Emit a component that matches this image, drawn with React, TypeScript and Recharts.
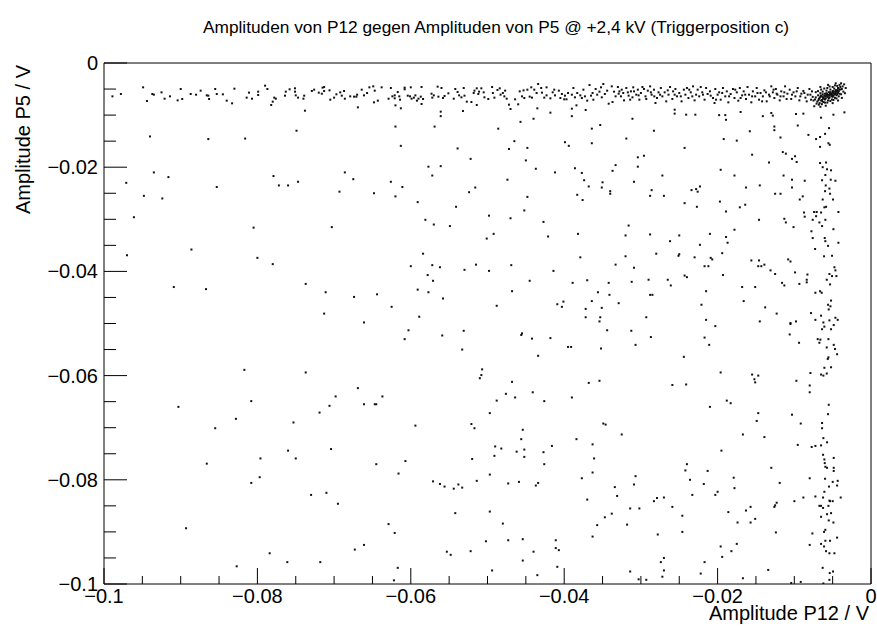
import React from "react";
import { ScatterChart, Scatter, XAxis, YAxis, ReferenceArea } from "recharts";

// All point values are in millivolts: [P12 amplitude, P5 amplitude]
const bandLeftMv: number[][] = [
  [-98.9,-6.4],[-97.8,-5.95],[-94.9,-4.67],[-94.4,-7.29],[-93.7,-5.95],[-93.5,-6.08],[-92.5,-5.63],[-92.1,-6.85],[-91.4,-6.4],[-90.4,-7.17],
  [-90.0,-4.99],[-89.8,-6.91],[-88.7,-5.95],[-88.0,-6.08],[-87.4,-5.31],[-86.6,-6.21],[-86.4,-6.27],[-86.3,-6.91],[-85.5,-4.99],[-85.3,-5.95],
  [-84.5,-6.01],[-84.0,-7.23],[-83.3,-7.74],[-83.0,-4.93],[-81.4,-6.65],[-81.1,-5.69],[-80.7,-6.85],[-79.9,-5.5],[-79.9,-6.14],[-79.0,-4.35],
  [-78.7,-4.99],[-78.2,-8.06],[-78.0,-7.42],[-77.8,-6.65],[-77.6,-6.85],[-76.4,-6.27],[-76.3,-5.5],[-75.8,-5.05],[-75.1,-4.86],[-75.1,-5.5],
  [-75.0,-6.21],[-74.7,-6.65],[-74.0,-6.85],[-73.9,-6.27],[-73.8,-9.15],[-72.9,-5.37],[-72.6,-5.12],[-72.0,-5.69],[-71.6,-5.89],[-71.5,-4.73],
  [-71.3,-4.61],[-71.3,-5.37],[-70.6,-5.25],[-70.5,-7.04],[-70.0,-6.65],[-69.7,-6.01],[-69.2,-5.63],[-69.0,-6.27],[-68.7,-5.37],[-68.6,-6.85],
  [-67.9,-6.4],[-67.4,-6.46],[-67.1,-6.46],[-67.0,-6.08],[-66.9,-8.51],
];

const bandMidMv: number[][] = [
  [-66.4,-5.12],[-66.1,-6.21],[-65.7,-5.76],[-65.4,-4.67],[-64.9,-4.48],[-64.7,-5.31],[-64.8,-7.55],[-64.3,-7.23],[-63.8,-4.67],[-62.6,-4.8],
  [-62.9,-6.85],[-62.4,-6.4],[-62.1,-6.21],[-62.1,-6.78],[-62.0,-8.13],[-61.7,-5.57],[-61.5,-6.4],[-61.4,-7.04],[-61.3,-8.7],[-60.8,-4.73],
  [-60.8,-5.05],[-60.4,-6.27],[-60.1,-6.4],[-60.0,-4.67],[-59.9,-6.85],[-59.6,-6.65],[-59.4,-6.21],[-59.2,-7.23],[-59.0,-6.85],[-58.7,-6.46],
  [-58.6,-4.61],[-58.6,-7.87],[-58.4,-6.91],[-57.3,-5.89],[-57.2,-6.65],[-57.0,-6.21],[-56.5,-4.54],[-56.4,-6.46],[-56.0,-4.8],[-55.8,-6.72],
  [-55.6,-6.33],[-55.1,-5.82],[-54.4,-6.85],[-54.2,-4.99],[-53.9,-5.57],[-53.7,-6.21],[-53.4,-6.59],[-53.1,-4.8],[-53.0,-6.27],[-52.7,-7.42],
  [-52.1,-7.49],[-51.8,-5.76],[-51.7,-5.31],[-51.4,-4.86],[-51.2,-5.95],[-51.1,-5.5],[-50.8,-4.86],[-50.5,-5.63],[-51.4,-8.06],[-50.4,-6.59],
  [-49.9,-6.91],[-49.4,-4.61],[-49.3,-5.76],[-49.1,-6.65],[-48.7,-5.18],[-48.4,-4.86],[-48.3,-6.08],[-48.0,-5.76],[-47.8,-6.4],[-47.7,-5.31],
  [-47.5,-6.85],[-47.2,-8.0],[-47.0,-8.83],[-46.4,-6.97],[-46.0,-7.93],[-45.8,-5.44],[-45.5,-6.4],[-45.3,-5.25],[-45.2,-6.72],[-44.8,-5.12],
  [-44.5,-6.46],[-44.3,-4.67],[-44.2,-6.65],[-43.9,-5.12],[-43.6,-5.76],[-43.4,-4.03],[-43.0,-4.8],[-42.9,-5.69],[-42.6,-6.65],[-42.3,-4.67],
  [-42.3,-6.21],[-41.8,-6.78],[-41.5,-5.63],[-41.3,-5.12],[-41.2,-6.21],[-40.7,-5.31],[-40.5,-6.72],[-40.3,-5.95],[-40.0,-6.97],[-39.9,-6.27],
  [-39.7,-6.97],[-39.5,-5.76],[-39.0,-6.08],[-38.8,-4.8],[-38.6,-6.59],[-38.4,-8.13],[-38.3,-5.76],[-37.9,-6.21],[-37.7,-6.72],[-37.5,-5.12],
  [-37.3,-6.4],[-37.0,-7.23],[-36.7,-4.22],[-36.5,-6.27],[-36.3,-5.76],[-36.2,-7.04],[-35.9,-4.99],[-35.7,-6.08],[-35.4,-5.5],[-35.2,-4.67],
  [-35.1,-6.59],[-34.9,-4.03],[-34.7,-5.95],[-34.4,-5.31],[-34.2,-7.81],[-33.8,-4.48],[-33.7,-7.49],[-33.5,-5.5],[-33.3,-6.4],
];

const bandRightMv: number[][] = [
  [-33.0,-4.61],[-32.8,-5.44],[-32.6,-6.4],[-32.3,-5.76],[-32.2,-7.17],[-31.9,-4.8],[-31.6,-6.27],[-31.3,-5.44],[-31.1,-6.59],[-31.0,-4.67],
  [-30.6,-6.08],[-30.4,-5.12],[-30.2,-7.04],[-30.0,-5.76],[-29.8,-4.61],[-29.4,-6.4],[-29.1,-5.31],[-28.8,-4.48],[-28.6,-6.08],[-28.3,-5.12],
  [-28.1,-7.68],[-27.9,-6.72],[-27.7,-5.63],[-27.4,-4.8],[-27.2,-6.4],[-26.9,-5.63],[-26.7,-7.36],[-26.4,-6.08],[-26.2,-4.61],[-25.9,-6.91],
  [-25.8,-5.44],[-25.5,-4.99],[-25.3,-6.4],[-25.0,-5.76],[-24.7,-7.36],[-24.4,-5.12],[-24.2,-6.08],[-24.0,-4.8],[-23.8,-6.72],[-23.5,-5.63],
  [-23.2,-4.48],[-23.0,-7.17],[-22.8,-6.08],[-22.6,-5.12],[-22.4,-6.4],[-22.0,-5.63],[-21.7,-7.04],[-21.5,-4.8],[-21.3,-5.95],[-21.0,-5.44],
  [-20.6,-6.72],[-20.4,-7.68],[-20.3,-4.99],[-20.0,-6.08],[-19.8,-5.63],[-19.6,-7.04],[-19.3,-4.8],[-19.0,-6.4],[-18.8,-5.44],[-18.6,-7.55],
  [-18.3,-5.95],[-18.0,-4.99],[-17.8,-6.72],[-17.5,-5.63],[-17.3,-7.23],[-17.1,-4.8],[-16.8,-6.21],[-16.6,-5.44],[-16.3,-6.91],[-16.1,-4.61],
  [-15.9,-6.08],[-15.6,-7.55],[-15.4,-5.44],[-15.1,-6.4],[-14.9,-4.8],[-14.6,-7.04],[-14.4,-5.76],[-14.1,-6.4],[-13.9,-5.25],[-13.6,-7.36],
  [-13.3,-6.08],[-13.0,-4.48],[-12.8,-5.63],[-12.6,-6.72],[-12.4,-4.99],[-12.2,-6.08],[-11.9,-7.17],[-11.7,-5.44],[-11.4,-6.4],[-11.2,-4.48],
  [-10.9,-5.89],[-10.6,-5.12],[-10.4,-6.91],[-10.1,-5.63],[-9.86,-6.4],[-9.55,-4.8],[-9.34,-7.17],[-9.08,-5.89],[-8.82,-5.37],[-8.55,-6.65],
  [-8.25,-6.08],[-8.03,-4.99],[-7.82,-7.04],
  [-32.9,-5.89],[-32.5,-5.12],[-31.7,-5.63],[-31.4,-7.04],[-30.9,-5.44],[-30.3,-6.21],[-29.6,-4.99],[-29.3,-6.91],[-28.7,-5.63],[-28.25,-6.4],
  [-27.5,-6.08],[-26.5,-5.25],[-25.6,-6.08],[-24.8,-6.4],[-23.7,-5.12],[-23.3,-6.4],[-22.2,-4.61],[-21.9,-6.08],[-20.9,-6.27],[-20.2,-7.04],
  [-19.4,-5.76],[-18.5,-6.4],[-17.7,-5.12],[-17.0,-6.72],[-16.4,-6.08],[-15.5,-6.4],[-14.8,-5.76],[-14.2,-7.36],[-13.7,-5.63],[-13.2,-6.4],
  [-12.7,-5.12],[-12.3,-5.89],[-11.8,-6.4],[-11.3,-5.63],[-11.0,-6.91],[-10.3,-6.08],[-9.69,-5.44],[-9.21,-6.4],[-8.69,-5.76],[-8.38,-7.36],
  [-7.9,-6.08],[-7.69,-5.44],
];

const clusterMv: number[][] = [
  [-6.8,-6.9],[-6.5,-7.2],[-6.2,-6.6],[-6.0,-7.0],[-5.7,-6.4],[-5.5,-6.8],[-5.2,-6.1],[-5.0,-6.5],[-4.8,-5.9],[-4.5,-6.2],[-4.3,-5.6],[-4.1,-5.9],
  [-6.9,-6.2],[-6.6,-6.5],[-6.3,-6.0],[-6.1,-6.3],[-5.8,-5.8],[-5.6,-6.1],[-5.3,-5.6],[-5.1,-5.9],[-4.9,-5.4],[-4.6,-5.7],[-4.4,-5.2],[-4.2,-5.4],
  [-7.0,-7.4],[-6.7,-7.7],[-6.4,-7.1],[-6.2,-7.5],[-5.9,-6.8],[-5.6,-7.2],[-5.4,-6.6],[-5.1,-7.0],[-4.9,-6.3],[-4.7,-6.7],[-4.4,-6.0],[-4.0,-5.1],
  [-6.6,-5.8],[-6.3,-5.5],[-6.0,-5.9],[-5.8,-5.3],[-5.5,-5.6],[-5.3,-5.1],[-5.0,-5.4],[-4.8,-4.9],[-4.6,-5.2],[-4.3,-4.8],[-4.0,-4.6],[-3.8,-5.0],
  [-7.2,-6.6],[-7.3,-7.0],[-7.1,-7.8],[-6.8,-8.0],[-6.4,-7.9],[-6.0,-7.6],[-5.7,-7.6],[-5.3,-7.3],[-4.9,-7.1],[-4.5,-6.8],[-4.2,-6.4],[-3.9,-6.0],
  [-6.9,-5.4],[-6.5,-5.1],[-6.1,-4.9],[-5.7,-4.8],[-5.4,-4.5],[-5.0,-4.6],[-4.7,-4.3],[-4.4,-4.4],[-4.1,-4.2],[-3.7,-4.5],[-3.6,-5.5],[-3.5,-4.1],
  [-6.7,-6.7],[-6.4,-6.4],[-6.15,-6.85],[-5.85,-6.15],[-5.65,-6.55],[-5.35,-5.95],[-5.15,-6.35],[-4.95,-5.65],[-4.75,-6.05],[-4.55,-5.45],[-4.35,-5.75],[-4.15,-5.05],
  [-6.55,-6.25],[-6.25,-6.75],[-5.95,-6.45],[-5.75,-5.95],[-5.45,-6.25],[-5.25,-5.75],[-5.05,-6.15],[-4.85,-5.55],[-4.65,-5.95],[-4.45,-5.35],[-6.85,-7.15],[-6.35,-7.35],
  [-7.5,-7.2],[-7.6,-6.5],[-7.4,-8.3],[-6.6,-8.4],[-5.9,-8.2],[-5.0,-7.7],[-4.3,-7.2],[-3.8,-6.7],[-3.4,-5.8],[-3.3,-4.8],[-3.9,-3.9],[-4.6,-3.9],[-5.6,-4.2],[-6.6,-4.6],[-7.2,-5.6],
];

const upperScatterMv: number[][] = [
  [-94.0,-14.1],[-86.4,-14.6],[-81.6,-14.5],[-74.9,-13.0],[-93.5,-21.0],[-91.6,-21.9],[-97.1,-23.0],[-85.3,-23.8],[-77.9,-21.7],[-77.2,-23.5],
  [-76.0,-23.5],[-74.7,-22.8],[-68.6,-21.0],[-67.5,-22.3],[-69.3,-24.7],[-94.8,-25.5],[-92.4,-26.0],[-96.1,-29.6],[-80.5,-31.6],[-70.3,-31.5],
  [-97.0,-36.9],[-88.6,-35.8],[-80.0,-37.4],[-78.0,-38.6],[-73.7,-42.4],[-90.9,-43.0],[-86.7,-43.4],[-71.1,-44.0],[-67.4,-44.9],[-71.3,-48.1],
  [-56.1,-9.34],[-56.1,-10.2],[-53.2,-9.21],[-43.5,-8.7],[-41.8,-9.53],[-39.0,-8.77],[-39.0,-10.2],[-37.2,-9.02],[-62.0,-12.2],[-56.9,-12.2],
  [-48.6,-12.6],[-45.7,-11.3],[-44.0,-10.7],[-35.3,-11.9],[-36.4,-12.6],[-61.3,-15.9],[-53.9,-16.4],[-46.5,-15.0],[-47.2,-16.5],[-44.8,-16.3],
  [-39.9,-15.2],[-39.4,-15.9],[-36.4,-15.4],[-52.2,-18.4],[-45.0,-18.7],[-57.7,-19.9],[-56.1,-19.8],[-57.2,-21.6],[-43.7,-20.3],[-41.2,-21.0],
  [-38.6,-20.2],[-37.7,-21.1],[-33.3,-19.6],[-33.7,-20.7],[-62.6,-22.8],[-61.1,-23.8],[-64.8,-25.0],[-62.0,-25.6],[-52.4,-24.8],[-51.6,-23.9],
  [-47.4,-22.4],[-37.4,-22.5],[-36.8,-23.7],[-35.0,-22.9],[-35.1,-23.9],[-34.0,-24.6],[-34.0,-25.1],[-38.3,-25.3],[-37.6,-26.3],[-44.8,-25.7],
  [-59.1,-26.7],[-54.1,-27.6],[-45.2,-28.3],[-49.8,-29.3],[-47.0,-29.8],[-58.1,-30.1],[-57.0,-31.0],[-54.9,-31.3],[-42.7,-30.5],[-49.2,-32.8],
  [-50.1,-33.7],[-42.1,-33.3],[-38.2,-32.8],[-58.4,-36.6],[-37.9,-37.3],[-60.0,-39.0],[-57.2,-38.8],[-56.2,-39.2],[-53.0,-39.7],[-51.5,-38.7],
  [-49.8,-39.9],[-46.9,-38.8],[-41.4,-39.9],[-33.3,-38.7],[-57.8,-40.7],[-57.1,-41.8],[-44.5,-41.8],[-38.9,-42.2],[-37.0,-41.7],[-34.2,-42.2],
  [-59.1,-43.5],[-57.7,-44.0],[-46.8,-43.8],[-35.6,-44.0],[-34.1,-44.5],[-64.4,-44.4],[-55.8,-45.2],[-62.5,-46.8],[-48.8,-46.6],[-40.9,-46.3],
  [-40.3,-46.8],[-40.1,-45.8],[-36.4,-45.7],[-35.1,-47.0],[-37.2,-47.2],[-58.9,-48.7],[-37.2,-48.8],[-35.3,-48.8],[-35.4,-49.6],[-66.1,-49.8],
];

const upperRightMv: number[][] = [
  [-31.1,-10.7],[-25.6,-8.96],[-25.6,-9.72],[-24.1,-9.92],[-22.9,-9.92],[-19.8,-10.0],[-19.0,-10.0],[-18.9,-10.9],[-17.0,-9.4],[-14.1,-10.2],
  [-13.0,-9.6],[-12.8,-10.1],[-9.78,-9.79],[-8.82,-9.72],[-6.51,-10.5],[-4.9,-9.92],[-3.47,-9.47],[-28.3,-13.0],[-31.9,-14.5],[-24.3,-16.3],
  [-19.2,-14.6],[-17.5,-14.9],[-15.8,-13.1],[-12.6,-12.2],[-12.6,-12.9],[-11.8,-14.3],[-9.55,-12.0],[-8.16,-13.8],[-7.16,-14.6],[-6.64,-14.2],
  [-5.99,-13.6],[-5.47,-12.5],[-5.55,-15.4],[-6.64,-16.1],[-5.38,-15.7],[-11.5,-17.1],[-11.1,-17.4],[-9.9,-17.9],[-9.69,-19.0],[-10.3,-18.4],
  [-30.4,-18.1],[-29.6,-17.8],[-30.4,-19.9],[-15.5,-17.6],[-13.3,-19.1],[-19.6,-20.5],[-27.2,-21.6],[-30.9,-22.8],[-28.6,-24.4],[-28.8,-25.5],
  [-27.0,-25.5],[-23.4,-24.4],[-22.8,-24.2],[-22.6,-24.7],[-22.3,-23.7],[-22.7,-27.6],[-24.3,-26.9],[-17.8,-21.6],[-16.3,-23.9],[-14.5,-23.5],
  [-12.5,-25.1],[-11.8,-25.1],[-11.4,-21.6],[-10.3,-22.4],[-10.3,-23.9],[-8.9,-25.6],[-9.29,-26.2],[-8.64,-22.6],[-6.64,-19.2],[-6.3,-20.0],
  [-5.86,-19.1],[-5.73,-20.4],[-5.21,-20.6],[-5.95,-21.5],[-6.38,-22.5],[-5.25,-22.4],[-4.64,-22.6],[-5.9,-23.5],[-5.42,-24.1],[-5.99,-24.6],
  [-5.34,-25.1],[-6.3,-26.2],[-6.08,-27.7],[-5.86,-27.6],[-4.25,-28.6],[-4.95,-26.2],[-17.1,-27.7],[-16.4,-27.2],[-19.7,-26.6],[-18.9,-28.5],
  [-14.6,-30.1],[-11.3,-29.9],[-11.1,-30.6],[-10.1,-31.5],[-8.73,-28.7],[-8.64,-29.5],[-7.42,-28.6],[-7.08,-28.6],[-6.51,-28.7],[-7.16,-29.4],
  [-7.6,-30.1],[-6.73,-30.6],[-6.38,-31.3],[-5.95,-30.1],[-4.9,-31.9],[-31.6,-31.2],[-32.0,-33.1],[-28.8,-32.9],[-25.0,-33.1],[-26.2,-34.2],
  [-22.3,-34.9],[-21.0,-32.8],[-18.9,-33.4],[-18.7,-34.5],[-19.4,-36.5],[-28.0,-36.6],[-25.1,-37.0],[-25.0,-36.7],[-23.0,-37.3],[-20.9,-37.4],
  [-20.7,-37.7],[-17.8,-32.0],[-7.77,-32.3],[-7.6,-33.6],[-7.29,-35.7],[-6.03,-33.6],[-5.95,-34.2],[-5.6,-35.1],[-6.12,-37.1],[-5.08,-37.0],
  [-4.25,-34.5],[-32.0,-37.1],[-30.9,-39.3],[-31.2,-42.0],[-29.0,-41.6],[-28.8,-44.5],[-28.5,-44.5],[-32.9,-46.1],[-26.5,-41.6],[-26.1,-42.7],
  [-24.3,-40.8],[-24.0,-41.1],[-21.7,-39.0],[-21.2,-39.0],[-21.5,-43.8],[-19.3,-40.7],[-16.8,-43.0],[-15.1,-43.0],[-15.6,-37.9],[-14.6,-37.9],
  [-14.7,-39.0],[-14.3,-39.0],[-13.9,-38.7],[-13.1,-39.8],[-12.5,-40.5],[-10.8,-37.7],[-10.5,-38.1],[-9.9,-40.2],[-11.6,-42.2],[-11.3,-42.7],
  [-9.34,-42.4],[-8.29,-40.6],[-8.38,-41.6],[-8.38,-42.1],[-7.25,-44.1],[-6.64,-43.8],[-6.43,-44.1],[-5.77,-41.6],[-5.42,-40.5],[-5.34,-42.5],
  [-5.08,-40.9],[-4.77,-39.2],[-4.64,-39.8],[-4.51,-40.9],[-5.6,-46.4],[-5.29,-46.7],[-5.21,-45.6],[-5.51,-47.3],[-22.1,-46.4],[-16.6,-45.7],
  [-13.8,-46.9],[-12.3,-48.1],[-7.82,-48.0],[-29.3,-48.8],[-21.5,-49.3],[-14.5,-49.6],[-10.5,-49.9],[-9.78,-49.6],[-7.25,-49.3],[-6.51,-48.5],
  [-6.21,-49.8],[-5.42,-49.4],[-4.64,-48.9],[-4.34,-49.3],
];

const lowerLeftMv: number[][] = [
  [-81.7,-58.9],[-73.7,-59.4],[-66.9,-62.4],[-69.8,-64.0],[-90.3,-66.0],[-80.8,-64.9],[-70.6,-65.8],[-71.9,-67.1],[-82.8,-68.3],[-75.3,-69.0],
  [-85.5,-70.1],[-76.0,-74.4],[-70.4,-74.1],[-79.6,-75.9],[-75.0,-75.9],[-86.6,-76.9],[-79.7,-79.5],[-80.8,-80.6],[-73.0,-82.9],[-71.0,-82.5],
  [-69.5,-84.6],[-89.3,-89.3],[-78.4,-94.1],[-76.1,-95.8],[-71.8,-95.8],[-82.7,-96.6],[-67.3,-93.4],
];

const lowerMidMv: number[][] = [
  [-60.3,-51.3],[-60.8,-53.0],[-55.9,-52.3],[-53.1,-51.4],[-53.3,-55.0],[-45.5,-51.9],[-45.6,-52.2],[-44.2,-52.9],[-41.8,-52.8],[-43.4,-56.2],
  [-39.5,-54.5],[-39.1,-54.5],[-35.2,-54.8],[-34.4,-51.3],[-50.7,-58.8],[-50.8,-59.9],[-51.0,-60.5],[-46.8,-61.2],[-47.6,-63.5],[-46.4,-64.2],
  [-44.1,-63.2],[-42.6,-64.9],[-39.0,-64.2],[-36.8,-61.4],[-35.4,-61.0],[-48.8,-64.8],[-49.7,-67.2],[-63.7,-64.0],[-66.1,-65.5],[-64.7,-65.5],
  [-64.5,-65.5],[-59.4,-69.6],[-52.1,-69.3],[-51.7,-70.1],[-45.4,-70.4],[-45.6,-72.2],[-49.0,-73.6],[-48.2,-74.0],[-46.2,-74.6],[-45.2,-74.2],
  [-45.2,-75.6],[-49.1,-75.4],[-42.7,-74.7],[-42.6,-77.0],[-41.6,-73.5],[-38.4,-72.2],[-36.3,-73.2],[-34.9,-69.2],[-34.6,-69.4],[-36.1,-75.9],
  [-36.3,-78.6],[-37.7,-79.7],[-33.4,-81.4],[-64.5,-77.0],[-60.7,-76.4],[-61.6,-78.8],[-52.0,-76.0],[-49.7,-79.0],[-57.1,-80.3],[-56.2,-80.8],
  [-55.6,-81.3],[-54.4,-81.7],[-53.8,-80.9],[-53.3,-81.5],[-51.4,-80.2],[-47.3,-80.7],[-45.9,-80.4],[-43.7,-81.1],[-43.4,-80.6],[-37.0,-83.8],
  [-54.2,-86.4],[-49.7,-86.1],[-48.0,-88.4],[-62.9,-88.5],[-62.1,-90.2],[-35.7,-88.7],[-34.7,-87.2],[-33.8,-86.5],[-36.3,-90.9],[-66.1,-92.5],
  [-55.3,-93.8],[-54.8,-94.4],[-52.2,-93.7],[-50.2,-91.8],[-47.3,-91.6],[-45.4,-91.4],[-44.0,-93.8],[-41.1,-91.6],[-41.1,-93.1],[-40.7,-93.5],
  [-45.4,-95.5],[-61.7,-96.9],[-49.4,-97.4],[-40.9,-96.7],[-43.5,-98.3],[-62.2,-99.3],
];

const lowerRightMv: number[][] = [
  [-31.25,-51.4],[-28.7,-52.6],[-30.7,-54.1],[-21.7,-52.7],[-21.1,-54.1],[-20.3,-50.5],[-24.4,-56.4],[-10.6,-52.1],[-9.38,-53.7],[-10.5,-50.1],
  [-7.9,-59.5],[-9.73,-61.0],[-7.99,-61.9],[-7.99,-63.2],[-6.95,-53.0],[-6.6,-53.1],[-6.73,-53.7],[-6.38,-51.1],[-6.08,-50.6],[-5.21,-51.1],
  [-4.86,-50.3],[-5.55,-53.0],[-4.86,-54.1],[-4.69,-54.9],[-5.77,-54.6],[-4.42,-55.9],[-5.55,-56.5],[-5.64,-56.8],[-5.21,-58.4],[-6.08,-58.5],
  [-5.77,-59.6],[-6.51,-59.8],[-6.21,-60.0],[-19.6,-59.4],[-25.9,-61.8],[-24.1,-61.7],[-15.5,-59.8],[-14.7,-60.0],[-15.2,-60.7],[-15.1,-61.3],
  [-18.8,-64.8],[-18.3,-65.3],[-21.0,-66.0],[-5.51,-65.6],[-5.6,-67.4],[-14.7,-67.2],[-14.9,-68.7],[-10.3,-67.5],[-9.16,-69.2],[-6.38,-69.1],
  [-6.38,-70.1],[-6.21,-72.0],[-5.73,-72.8],[-6.51,-73.4],[-7.25,-73.5],[-7.73,-73.7],[-9.55,-73.3],[-13.9,-71.8],[-16.7,-71.3],[-19.5,-74.4],
  [-32.5,-71.3],[-24.0,-77.0],[-24.2,-78.2],[-21.3,-78.3],[-13.0,-77.7],[-6.25,-75.2],[-4.86,-75.8],[-6.08,-76.1],[-6.03,-76.8],[-5.95,-77.5],
  [-5.73,-77.7],[-4.86,-78.3],[-4.86,-77.7],[-7.99,-79.7],[-5.99,-79.8],[-5.47,-81.3],[-4.99,-80.4],[-4.34,-80.2],[-4.42,-81.1],[-3.95,-83.4],
  [-6.08,-82.3],[-6.25,-83.4],[-5.42,-84.0],[-5.34,-84.1],[-4.99,-84.1],[-6.73,-85.0],[-6.51,-85.0],[-6.25,-85.4],[-5.55,-85.0],[-5.73,-86.6],
  [-5.21,-86.4],[-6.51,-87.1],[-5.51,-87.8],[-4.9,-88.2],[-7.25,-83.2],[-8.82,-83.4],[-9.99,-84.1],[-17.9,-79.6],[-17.8,-81.6],[-23.6,-80.0],
  [-21.8,-80.8],[-23.3,-82.9],[-20.0,-82.3],[-20.3,-82.9],[-27.0,-83.4],[-27.9,-83.5],[-28.3,-84.1],[-25.9,-85.2],[-30.7,-79.3],[-30.9,-80.9],
  [-33.1,-83.1],[-31.4,-85.5],[-30.2,-85.5],[-31.8,-88.6],[-27.8,-90.5],[-24.6,-86.9],[-24.6,-90.0],[-18.6,-86.2],[-16.3,-85.9],[-15.7,-85.2],
  [-15.1,-87.5],[-15.7,-88.2],[-17.4,-88.2],[-12.3,-84.4],[-12.5,-84.9],[-12.6,-85.2],[-11.9,-80.6],[-12.4,-90.1],[-7.64,-90.3],[-6.12,-90.0],
  [-5.95,-89.6],[-4.42,-91.1],[-7.99,-92.5],[-6.51,-92.3],[-6.12,-92.8],[-5.86,-93.7],[-5.42,-94.1],[-4.77,-94.1],[-5.95,-91.7],[-5.34,-91.7],
  [-19.6,-92.8],[-18.2,-93.7],[-17.5,-92.3],[-19.4,-94.8],[-21.7,-95.8],[-27.0,-95.0],[-27.4,-95.8],[-27.0,-97.4],[-27.2,-98.6],[-31.4,-97.6],
  [-30.3,-99.1],[-29.3,-99.2],[-22.2,-98.0],[-16.7,-98.9],[-13.4,-97.3],[-10.4,-99.8],[-9.16,-99.6],[-6.3,-96.9],[-5.38,-97.9],[-4.95,-97.6],
  [-5.42,-99.2],[-6.21,-99.9],
];

const tickValues = [
  -0.1, -0.095, -0.09, -0.085, -0.08, -0.075, -0.07, -0.065, -0.06, -0.055, -0.05,
  -0.045, -0.04, -0.035, -0.03, -0.025, -0.02, -0.015, -0.01, -0.005, 0,
];
const majorTicks = [-0.1, -0.08, -0.06, -0.04, -0.02, 0];
const majorLabels = ["\u22120.1", "\u22120.08", "\u22120.06", "\u22120.04", "\u22120.02", "0"];

const title = "Amplituden von P12 gegen Amplituden von P5 @ +2,4 kV (Triggerposition c)";
const xTitle = "Amplitude P12 / V";
const yTitle = "Amplitude P5 / V";

const allMv = [
  ...bandLeftMv, ...bandMidMv, ...bandRightMv, ...clusterMv,
  ...upperScatterMv, ...upperRightMv, ...lowerLeftMv, ...lowerMidMv, ...lowerRightMv,
];
const points = allMv.map(([x, y]) => ({ x: x / 1000, y: y / 1000 }));

const FONT = "'Liberation Sans', Arial, Helvetica, sans-serif";

const majorIndex = (v: number) => majorTicks.findIndex((m) => Math.abs(m - v) < 1e-9);

const XTick = (props: any) => {
  const { x, y, payload } = props;
  const idx = majorIndex(payload.value);
  const len = idx >= 0 ? 16 : 8;
  return (
    <g>
      <line x1={x} y1={y} x2={x} y2={y - len} stroke="#000" strokeWidth={1} />
      {idx >= 0 && (
        <text x={x} y={y + 19} textAnchor="middle" fontSize={20} fontFamily={FONT} fill="#000">
          {majorLabels[idx]}
        </text>
      )}
    </g>
  );
};

const YTick = (props: any) => {
  const { x, y, payload } = props;
  const idx = majorIndex(payload.value);
  const len = idx >= 0 ? 23 : 12;
  return (
    <g>
      <line x1={x} y1={y} x2={x + len} y2={y} stroke="#000" strokeWidth={1} />
      {idx >= 0 && (
        <text x={x - 6} y={y + 7} textAnchor="end" fontSize={20} fontFamily={FONT} fill="#000">
          {majorLabels[idx]}
        </text>
      )}
    </g>
  );
};

const Dot = (props: any) => {
  const { cx, cy } = props;
  if (cx == null || cy == null) return null;
  return <rect x={cx - 1} y={cy - 1} width={2} height={2} fill="#111" />;
};

export default function App() {
  return (
    <div style={{ position: "absolute", left: 0, top: 0, width: 877, height: 635, background: "#fff" }}>
      <div
        style={{
          position: "absolute", left: 196, top: 17, width: 600, textAlign: "center",
          fontFamily: FONT, fontSize: 17.3, whiteSpace: "nowrap", color: "#000",
        }}
      >
        {title}
      </div>
      <ScatterChart
        width={877}
        height={635}
        margin={{ top: 63, right: 6, bottom: 11, left: 44 }}
      >
        <XAxis
          type="number"
          dataKey="x"
          domain={[-0.1, 0]}
          ticks={tickValues}
          interval={0}
          allowDataOverflow
          axisLine={false}
          tickLine={false}
          tickSize={0}
          tickMargin={0}
          height={40}
          tick={<XTick />}
          label={{
            content: (p: any) => (
              <text
                x={p.viewBox.x + p.viewBox.width - 2}
                y={p.viewBox.y + 36}
                textAnchor="end"
                fontSize={20}
                fontFamily={FONT}
                fill="#000"
              >
                {xTitle}
              </text>
            ),
          }}
        />
        <YAxis
          type="number"
          dataKey="y"
          domain={[-0.1, 0]}
          ticks={tickValues}
          interval={0}
          allowDataOverflow
          axisLine={false}
          tickLine={false}
          tickSize={0}
          tickMargin={0}
          width={60}
          tick={<YTick />}
          label={{
            content: (p: any) => {
              const lx = 30;
              const ly = p.viewBox.y + 2;
              return (
                <text
                  x={lx}
                  y={ly}
                  transform={`rotate(-90 ${lx} ${ly})`}
                  textAnchor="end"
                  fontSize={20}
                  fontFamily={FONT}
                  fill="#000"
                >
                  {yTitle}
                </text>
              );
            },
          }}
        />
        <ReferenceArea x1={-0.1} x2={0} y1={-0.1} y2={0} fill="none" stroke="#000" strokeWidth={1} fillOpacity={0} />
        <Scatter data={points} shape={<Dot />} isAnimationActive={false} />
      </ScatterChart>
    </div>
  );
}
